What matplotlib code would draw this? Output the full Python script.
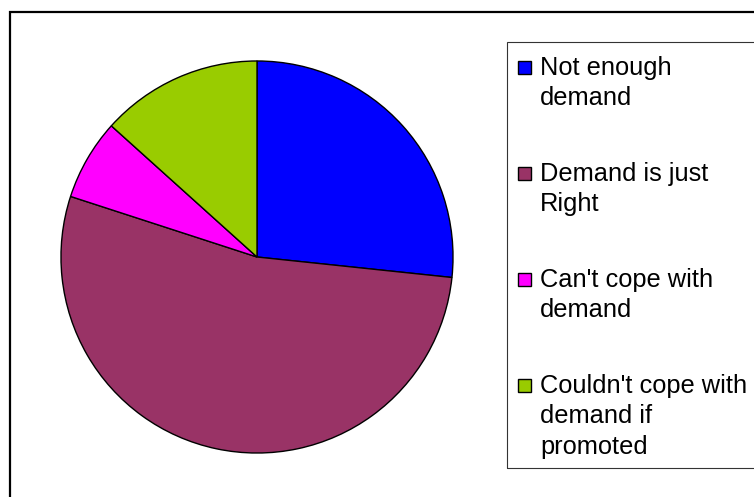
import matplotlib
matplotlib.use("Agg")
import matplotlib.pyplot as plt
from matplotlib.patches import Rectangle

plt.rcParams['font.family'] = ['Liberation Sans', 'DejaVu Sans']

# Survey answers (number of responses)
labels = ["Not enough\ndemand", "Demand is just\nRight", "Can't cope with\ndemand",
          "Couldn't cope with\ndemand if\npromoted"]
counts = [8, 16, 2, 4]
colors = ["#0000FF", "#993366", "#FF00FF", "#99CC00"]

W, H = 754, 497
fig = plt.figure(figsize=(W / 100, H / 100), dpi=100)

def fx(x):
    return x / W

def fy(y):
    return 1 - y / H

# outer chart frame (runs off the right and bottom edges)
fig.patches.append(Rectangle((fx(10), fy(520)), fx(800), 508 / H, transform=fig.transFigure,
                             fill=False, edgecolor="black", linewidth=1.6))

# pie
cx, cy, r = 257, 257, 197
ax = fig.add_axes([fx(cx - r), fy(cy + r), 2 * r / W, 2 * r / H])
ax.pie(counts, colors=colors, startangle=90, counterclock=False,
       wedgeprops=dict(edgecolor="black", linewidth=1.0))
ax.set_xlim(-1.005, 1.005)
ax.set_ylim(-1.005, 1.005)

# legend box
fig.patches.append(Rectangle((fx(507), fy(468)), fx(300), 426 / H, transform=fig.transFigure,
                             fill=False, edgecolor="#333333", linewidth=0.8))

for i, (lab, col) in enumerate(zip(labels, colors)):
    base = 74 + 106 * i
    fig.patches.append(Rectangle((fx(518), fy(base)), fx(13), 13 / H, transform=fig.transFigure,
                                 facecolor=col, edgecolor="black", linewidth=1.0))
    fig.text(fx(540), fy(base - 18), lab, fontsize=18.3, va="top", ha="left",
             linespacing=1.34, color="black")

fig.savefig("out.png", dpi=100)
